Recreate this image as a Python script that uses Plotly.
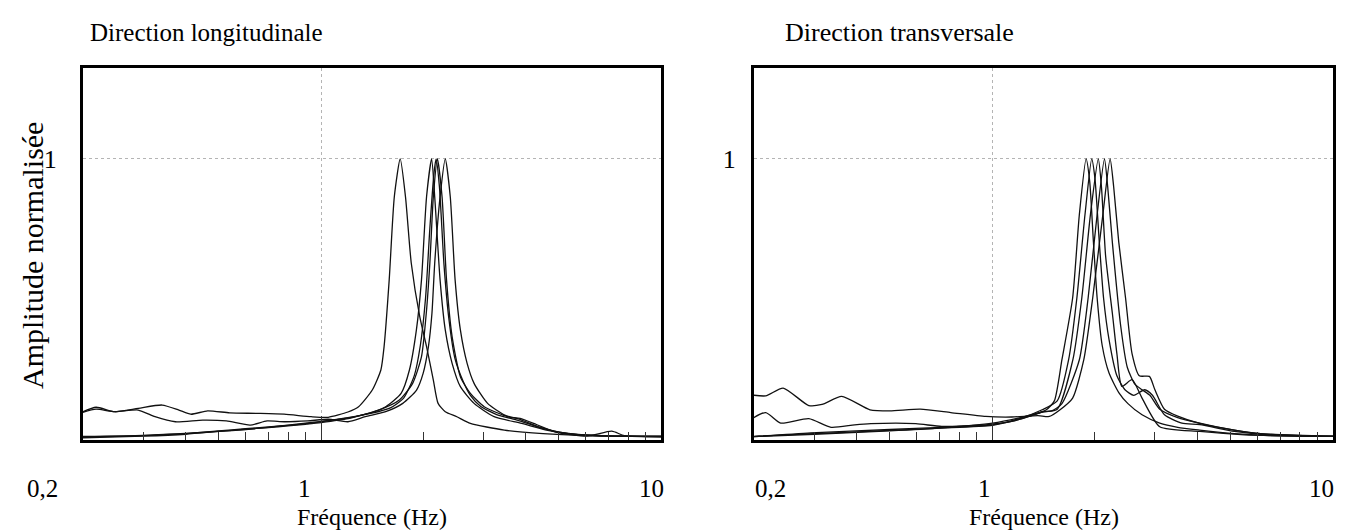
import math
import plotly.graph_objects as go

# ---------------- data ----------------
# Left panel: Direction longitudinale
L1_f = [0.194,0.218,0.247,0.29,0.341,0.382,0.414,0.464,0.539,0.648,0.779,0.935,1.05,1.2,1.29,1.415,1.50,1.533,1.587,1.643,1.71,1.772,1.843,1.952,2.044,2.14,2.21,2.32,2.51,2.75,3.46,4.5,6.0,8.0,10]
L1_v = [0.085,0.107,0.091,0.103,0.115,0.097,0.082,0.094,0.087,0.085,0.082,0.073,0.071,0.09,0.109,0.169,0.241,0.325,0.565,0.864,1.0,0.864,0.625,0.433,0.325,0.205,0.121,0.091,0.073,0.049,0.025,0.012,0.005,0.003,0.002]

L2_f = [0.194,0.218,0.247,0.29,0.325,0.373,0.449,0.527,0.619,0.694,0.779,0.914,1.05,1.2,1.35,1.55,1.74,1.91,1.997,2.07,2.12,2.16,2.24,2.32,2.40,2.48,2.57,2.69,2.82,3.09,3.47,3.89,4.5,5.5,7,10]
L2_v = [0.085,0.10,0.091,0.097,0.073,0.055,0.061,0.058,0.043,0.058,0.055,0.058,0.064,0.055,0.073,0.091,0.121,0.169,0.229,0.325,0.445,0.625,0.864,1.0,0.864,0.565,0.385,0.265,0.193,0.121,0.079,0.061,0.03,0.01,0.004,0.002]

L3_f = [0.194,0.25,0.3,0.4,0.5,0.6,0.7,0.8,0.9,1.0,1.15,1.32,1.55,1.72,1.82,1.908,1.975,2.044,2.115,2.16,2.24,2.32,2.43,2.57,2.82,3.23,3.89,4.6,5.5,7,10]
L3_v = [0.0,0.002,0.005,0.012,0.022,0.03,0.036,0.042,0.048,0.055,0.065,0.079,0.109,0.157,0.241,0.385,0.565,0.864,1.0,0.864,0.565,0.385,0.265,0.181,0.121,0.073,0.049,0.025,0.01,0.004,0.002]

L4_f = [0.194,0.3,0.4,0.5,0.6,0.7,0.8,0.9,1.0,1.2,1.48,1.70,1.86,1.975,2.04,2.09,2.14,2.20,2.27,2.34,2.43,2.57,2.75,3.02,3.54,3.85,4.3,4.9,6.07,7.16,7.8,10]
L4_v = [-0.003,0.003,0.01,0.02,0.028,0.034,0.04,0.046,0.052,0.066,0.097,0.133,0.193,0.289,0.445,0.625,0.864,1.0,0.864,0.565,0.361,0.217,0.157,0.109,0.073,0.067,0.045,0.018,0.003,0.021,0.005,0.0]

L5_f = [0.194,0.3,0.4,0.5,0.6,0.7,0.8,0.9,1.0,1.2,1.4,1.6,1.75,1.88,1.96,2.03,2.09,2.15,2.18,2.23,2.30,2.38,2.48,2.62,2.75,2.95,3.3,3.8,4.4,5.2,6.5,10]
L5_v = [0.002,0.006,0.013,0.02,0.027,0.035,0.043,0.05,0.056,0.07,0.085,0.105,0.14,0.22,0.33,0.5,0.75,0.95,1.0,0.9,0.62,0.42,0.28,0.2,0.15,0.11,0.08,0.06,0.035,0.015,0.005,0.002]

# Right panel: Direction transversale
R1_f = [0.194,0.216,0.243,0.289,0.316,0.361,0.437,0.5,0.614,0.755,0.956,1.14,1.36,1.47,1.58,1.72,1.855,1.97,2.11,2.216,2.27,2.35,2.46,2.57,2.7,2.89,3.0,3.2,3.5,4.06,5.13,6.13,8,10]
R1_v = [0.152,0.148,0.176,0.113,0.117,0.146,0.098,0.094,0.1,0.088,0.074,0.072,0.077,0.074,0.098,0.14,0.278,0.5,0.8,1.0,0.9,0.7,0.5,0.3,0.22,0.218,0.17,0.1,0.075,0.049,0.025,0.012,0.005,0.003]

R2_f = [0.194,0.216,0.239,0.289,0.336,0.394,0.44,0.596,0.71,0.956,1.14,1.28,1.44,1.52,1.60,1.72,1.80,1.884,1.93,1.98,2.03,2.1,2.2,2.35,2.5,2.75,3.1,3.5,4.06,5.13,6.5,10]
R2_v = [0.062,0.088,0.050,0.066,0.035,0.044,0.048,0.048,0.038,0.044,0.056,0.074,0.098,0.13,0.278,0.5,0.8,1.0,0.92,0.7,0.5,0.33,0.23,0.16,0.12,0.08,0.05,0.035,0.025,0.012,0.005,0.002]

R3_f = [0.194,0.293,0.5,0.71,1.0,1.21,1.4,1.55,1.674,1.77,1.87,1.957,2.0,2.06,2.12,2.2,2.32,2.45,2.6,2.8,2.95,3.2,3.6,4.06,5.13,6.13,10]
R3_v = [0.0,0.015,0.027,0.035,0.044,0.068,0.098,0.13,0.278,0.5,0.8,1.0,0.93,0.7,0.5,0.35,0.22,0.17,0.15,0.17,0.15,0.08,0.05,0.045,0.02,0.01,0.002]

R4_f = [0.194,0.3,0.5,0.71,1.0,1.21,1.4,1.55,1.723,1.83,1.94,2.046,2.09,2.15,2.25,2.32,2.4,2.57,2.75,3.1,4.06,5.5,10]
R4_v = [0.002,0.012,0.024,0.032,0.042,0.065,0.09,0.1,0.278,0.5,0.8,1.0,0.9,0.65,0.445,0.3,0.182,0.206,0.14,0.037,0.02,0.008,0.002]

R5_f = [0.194,0.3,0.5,0.71,1.0,1.21,1.4,1.5,1.6,1.80,1.91,2.03,2.133,2.18,2.25,2.38,2.49,2.62,2.75,2.9,3.1,3.5,4.06,5.13,6.13,10]
R5_v = [0.001,0.01,0.022,0.033,0.05,0.07,0.09,0.095,0.12,0.278,0.5,0.8,1.0,0.9,0.7,0.4,0.25,0.19,0.17,0.15,0.1,0.07,0.05,0.025,0.012,0.002]

left_curves = [(L1_f, L1_v), (L2_f, L2_v), (L3_f, L3_v), (L4_f, L4_v), (L5_f, L5_v)]
right_curves = [(R1_f, R1_v), (R2_f, R2_v), (R3_f, R3_v), (R4_f, R4_v), (R5_f, R5_v)]

x_tickvals = [0.2, 1, 10]
x_ticktext = ["0,2", "1", "10"]
x_minor = [0.3, 0.4, 0.5, 0.6, 0.7, 0.8, 0.9, 2, 3, 4, 5, 6, 7, 8, 9]
y_tickvals = [1]
y_ticktext = ["1"]

titles = ["Direction longitudinale", "Direction transversale"]
x_title = "Fréquence (Hz)"
y_title = "Amplitude normalisée"

# ---------------- figure ----------------
W, H = 1359, 531
FONT = "Liberation Serif"
LEFT_DOM = [83 / W, 661 / W]
RIGHT_DOM = [754 / W, 1333 / W]
# horizontal nudges of the printed tick labels (as in the original typesetting)
LEFT_LABEL_SHIFT = [-41, -17, -10]
RIGHT_LABEL_SHIFT = [16, -8, -12]

fig = go.Figure()
for f, v in left_curves:
    fig.add_trace(go.Scatter(x=f, y=v, mode="lines", xaxis="x", yaxis="y",
                             line=dict(color="#111", width=1.3, shape="spline", smoothing=0.6),
                             showlegend=False, hoverinfo="skip"))
for f, v in right_curves:
    fig.add_trace(go.Scatter(x=f, y=v, mode="lines", xaxis="x2", yaxis="y2",
                             line=dict(color="#111", width=1.3, shape="spline", smoothing=0.6),
                             showlegend=False, hoverinfo="skip"))

def xax(domain, anchor):
    return dict(domain=domain, anchor=anchor, type="log", range=[-0.7, 1.0],
                tickvals=x_tickvals, ticktext=x_ticktext, showticklabels=False,
                ticks="inside", ticklen=24, tickwidth=1, tickcolor="#333",
                minor=dict(tickvals=x_minor, ticks="inside", ticklen=8, tickcolor="#333",
                           tickwidth=1, showgrid=False),
                showgrid=True, gridcolor="#b4b4b4", griddash="dot", gridwidth=1,
                showline=True, linecolor="black", linewidth=3, mirror=True,
                automargin=False, zeroline=False, fixedrange=True)

def yax(domain, anchor, standoff):
    return dict(domain=domain, anchor=anchor, range=[-0.0107, 1.327],
                tickvals=y_tickvals, ticktext=y_ticktext, ticks="",
                showgrid=True, gridcolor="#b4b4b4", griddash="dot", gridwidth=1,
                showline=True, linecolor="black", linewidth=3, mirror=True,
                tickfont=dict(family=FONT, size=26, color="black"),
                ticklabelstandoff=standoff, automargin=False, zeroline=False, fixedrange=True)

annotations = [
    dict(text=titles[0], x=88 / W, y=1 - 33 / H, xref="paper", yref="paper",
         xanchor="left", yanchor="middle", showarrow=False,
         font=dict(family=FONT, size=25, color="black")),
    dict(text=titles[1], x=783 / W, y=1 - 33 / H, xref="paper", yref="paper",
         xanchor="left", yanchor="middle", showarrow=False,
         font=dict(family=FONT, size=26, color="black")),
    dict(text=x_title, x=sum(LEFT_DOM) / 2, y=1 - 517 / H, xref="paper", yref="paper",
         xanchor="center", yanchor="middle", showarrow=False,
         font=dict(family=FONT, size=24, color="black")),
    dict(text=x_title, x=sum(RIGHT_DOM) / 2, y=1 - 517 / H, xref="paper", yref="paper",
         xanchor="center", yanchor="middle", showarrow=False,
         font=dict(family=FONT, size=24, color="black")),
    dict(text=y_title, x=33 / W, y=1 - 256 / H, xref="paper", yref="paper",
         xanchor="center", yanchor="middle", showarrow=False, textangle=-90,
         font=dict(family=FONT, size=30, color="black")),
]
# x tick labels, placed at the tick values of each axis
for xref, shifts in (("x", LEFT_LABEL_SHIFT), ("x2", RIGHT_LABEL_SHIFT)):
    for val, txt, dx in zip(x_tickvals, x_ticktext, shifts):
        annotations.append(dict(text=txt, x=math.log10(val), xref=xref, y=1 - 488 / H, yref="paper",
                                xanchor="center", yanchor="middle", xshift=dx, showarrow=False,
                                font=dict(family=FONT, size=25, color="black")))

ydom = [1 - 440 / H, 1 - 68 / H]
fig.update_layout(
    width=W, height=H,
    margin=dict(l=0, r=0, t=0, b=0, autoexpand=False),
    paper_bgcolor="white", plot_bgcolor="white",
    xaxis=xax(LEFT_DOM, "y"),
    yaxis=yax(ydom, "x", 18),
    xaxis2=xax(RIGHT_DOM, "y2"),
    yaxis2=yax(ydom, "x2", 10),
    annotations=annotations,
)

fig.write_html("out.html", config={"displayModeBar": False, "staticPlot": True},
               post_script="document.body.style.margin='0';document.body.style.overflow='hidden';")
